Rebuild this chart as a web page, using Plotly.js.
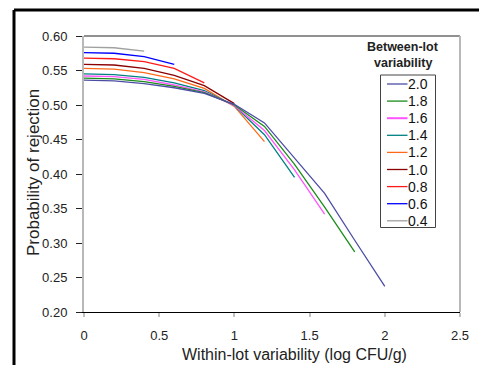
<!DOCTYPE html>
<html>
<head>
<meta charset="utf-8">
<script src="https://cdn.plot.ly/plotly-3.0.1.min.js"></script>
<style>html,body{margin:0;padding:0;background:#fff;}#chart{width:479px;height:365px;}</style>
</head>
<body>
<div id="chart"></div>
<script>
// Within-lot variability (x) at 0.2 steps
const withinLot = [0, 0.2, 0.4, 0.6, 0.8, 1.0, 1.2, 1.4, 1.6, 1.8, 2.0];
// Between-lot variability series labels (legend order)
const seriesLabels = ['2.0', '1.8', '1.6', '1.4', '1.2', '1.0', '0.8', '0.6', '0.4'];
const seriesColors = ['#4d4da6', '#1a8c1a', '#ff55ff', '#008080', '#ff6a1a', '#8b0000', '#ff1a1a', '#0000ff', '#a0a0a0'];
// Probability of rejection per series
const p20 = [0.536, 0.535, 0.531, 0.525, 0.517, 0.501, 0.474, 0.423, 0.372, 0.304, 0.237];
const p18 = [0.539, 0.538, 0.534, 0.527, 0.518, 0.500, 0.469, 0.414, 0.352, 0.287];
const p16 = [0.542, 0.541, 0.537, 0.529, 0.519, 0.499, 0.463, 0.406, 0.342];
const p14 = [0.545, 0.544, 0.540, 0.532, 0.521, 0.499, 0.457, 0.395];
const p12 = [0.553, 0.552, 0.547, 0.538, 0.524, 0.498, 0.447];
const p10 = [0.559, 0.558, 0.553, 0.543, 0.528, 0.502];
const p08 = [0.568, 0.567, 0.563, 0.553, 0.532];
const p06 = [0.576, 0.575, 0.570, 0.559];
const p04 = [0.584, 0.583, 0.578];
const seriesValues = [p20, p18, p16, p14, p12, p10, p08, p06, p04];

// plot area geometry (pixels)
const W = 479, H = 365, L = 84, R = 460, T = 36, B = 312;
const px = v => (v - L) / (R - L);
const py = v => (B - v) / (B - T);

const traces = [];
for (let i = seriesLabels.length - 1; i >= 0; i--) {
  const ys = seriesValues[i];
  traces.push({
    type: 'scatter', mode: 'lines',
    x: withinLot.slice(0, ys.length), y: ys,
    name: seriesLabels[i],
    line: {color: seriesColors[i], width: 1.3},
    showlegend: false, hoverinfo: 'skip'
  });
}

const font = 'Liberation Sans, Arial, sans-serif';
const shapes = [
  // outer frame
  {type: 'line', xref: 'paper', yref: 'paper', x0: px(14), x1: px(W + 5), y0: py(10), y1: py(10), line: {color: '#000', width: 3}},
  {type: 'line', xref: 'paper', yref: 'paper', x0: px(14), x1: px(14), y0: py(10), y1: py(H + 5), line: {color: '#000', width: 3}},
  // plot area top and right
  {type: 'line', xref: 'paper', yref: 'paper', x0: 0, x1: 1, y0: 1, y1: 1, line: {color: '#222', width: 1}},
  {type: 'line', xref: 'paper', yref: 'paper', x0: 1, x1: 1, y0: 0, y1: 1, line: {color: '#b8b8b8', width: 2}},
  // legend box
  {type: 'rect', xref: 'paper', yref: 'paper', x0: px(380.5), x1: px(435.5), y0: py(75), y1: py(227.5), line: {color: '#444', width: 1}, fillcolor: '#fff'}
];
const annotations = [
  {xref: 'paper', yref: 'paper', x: px(403), y: py(47), text: '<b>Between-lot</b>', showarrow: false, xanchor: 'center', yanchor: 'middle', font: {family: font, size: 12.5, color: '#222'}},
  {xref: 'paper', yref: 'paper', x: px(403), y: py(63), text: '<b>variability</b>', showarrow: false, xanchor: 'center', yanchor: 'middle', font: {family: font, size: 12.5, color: '#222'}},
  {xref: 'paper', yref: 'paper', x: px(33), y: py(173), text: 'Probability of rejection', textangle: -90, showarrow: false, xanchor: 'center', yanchor: 'middle', font: {family: font, size: 17, color: '#222'}},
  {xref: 'paper', yref: 'paper', x: px(294), y: py(354), text: 'Within-lot variability (log CFU/g)', showarrow: false, xanchor: 'center', yanchor: 'middle', font: {family: font, size: 16, color: '#222'}}
];
seriesLabels.forEach((lab, i) => {
  const yy = 84 + i * 17.1;
  shapes.push({type: 'line', xref: 'paper', yref: 'paper', x0: px(387), x1: px(407.5), y0: py(yy), y1: py(yy), line: {color: seriesColors[i], width: i === 2 ? 2 : 1.3}});
  annotations.push({xref: 'paper', yref: 'paper', x: px(406), y: py(yy), text: lab, showarrow: false, xanchor: 'left', yanchor: 'middle', font: {family: font, size: 14, color: '#111'}});
});

const layout = {
  width: W, height: H,
  margin: {l: L, r: W - R, t: T, b: H - B, pad: 0},
  paper_bgcolor: '#fff', plot_bgcolor: '#fff',
  showlegend: false,
  font: {family: font, color: '#222'},
  xaxis: {
    range: [0, 2.5], tickvals: [0, 0.5, 1, 1.5, 2, 2.5], ticktext: ['0', '0.5', '1', '1.5', '2', '2.5'],
    showgrid: false, zeroline: false, showline: true, linecolor: '#000', linewidth: 1,
    ticks: 'outside', ticklen: 4, tickwidth: 2, tickcolor: '#c0c0c0', ticklabelstandoff: 7,
    tickfont: {family: font, size: 13, color: '#222'}, fixedrange: true
  },
  yaxis: {
    range: [0.2, 0.6], tickvals: [0.2, 0.25, 0.3, 0.35, 0.4, 0.45, 0.5, 0.55, 0.6],
    tickformat: '.2f',
    showgrid: false, zeroline: false, showline: true, linecolor: '#b8b8b8', linewidth: 2,
    ticks: 'outside', ticklen: 6, tickwidth: 1, tickcolor: '#222', ticklabelstandoff: 6,
    tickfont: {family: font, size: 13, color: '#222'}, fixedrange: true
  },
  shapes: shapes,
  annotations: annotations
};
Plotly.newPlot('chart', traces, layout, {displayModeBar: false, staticPlot: true});
</script>
</body>
</html>
